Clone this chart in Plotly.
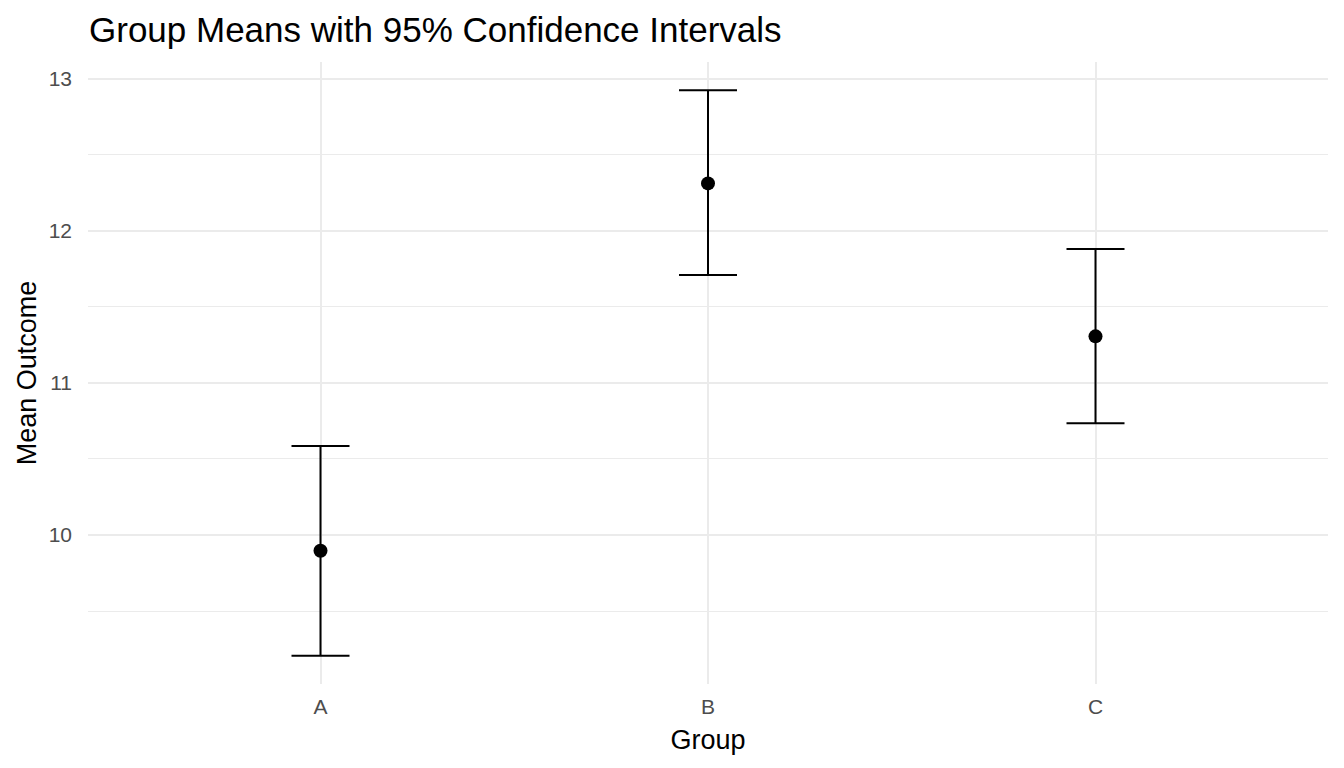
import plotly.graph_objects as go

groups = ["A", "B", "C"]
means = [9.897, 12.311, 11.306]
ci_lower = [9.207, 11.709, 10.734]
ci_upper = [10.586, 12.923, 11.880]

err_plus = [u - m for u, m in zip(ci_upper, means)]
err_minus = [m - l for m, l in zip(means, ci_lower)]

FONT = "Liberation Sans, Arial, Helvetica, sans-serif"

fig = go.Figure()
fig.add_trace(go.Scatter(
    x=groups, y=means, mode="markers",
    marker=dict(color="black", size=14),
    error_y=dict(type="data", symmetric=False, array=err_plus, arrayminus=err_minus,
                 color="black", thickness=2, width=29),
    showlegend=False,
))

ymin = min(ci_lower)
ymax = max(ci_upper)
pad = (ymax - ymin) * 0.05

fig.update_layout(
    width=1344, height=768,
    paper_bgcolor="white", plot_bgcolor="white",
    margin=dict(l=88, r=16, t=62, b=84),
    font=dict(family=FONT, color="black"),
    title=dict(text="Group Means with 95% Confidence Intervals",
               x=89 / 1344, xanchor="left", xref="container",
               y=1 - 30 / 768, yanchor="middle", yref="container",
               font=dict(size=35, color="black", family=FONT)),
    xaxis=dict(
        type="category", range=[-0.6, 2.6],
        showgrid=True, gridcolor="#EBEBEB", gridwidth=2,
        zeroline=False, showline=False, ticks="",
        ticklabelstandoff=8,
        tickfont=dict(size=21, color="#4D4D4D"),
        title=dict(text="Group", font=dict(size=27, color="black"), standoff=13),
    ),
    yaxis=dict(
        range=[ymin - pad, ymax + pad],
        dtick=1, tick0=0,
        showgrid=True, gridcolor="#EBEBEB", gridwidth=2,
        minor=dict(dtick=0.5, tick0=0, showgrid=True, gridcolor="#EBEBEB", gridwidth=1),
        zeroline=False, showline=False, ticks="",
        ticklabelstandoff=15,
        tickfont=dict(size=21, color="#4D4D4D"),
        title=dict(text="Mean Outcome", font=dict(size=27, color="black"), standoff=4),
    ),
)

fig.write_html("out.html", config={"displayModeBar": False},
               post_script="document.body.style.margin='0';")
